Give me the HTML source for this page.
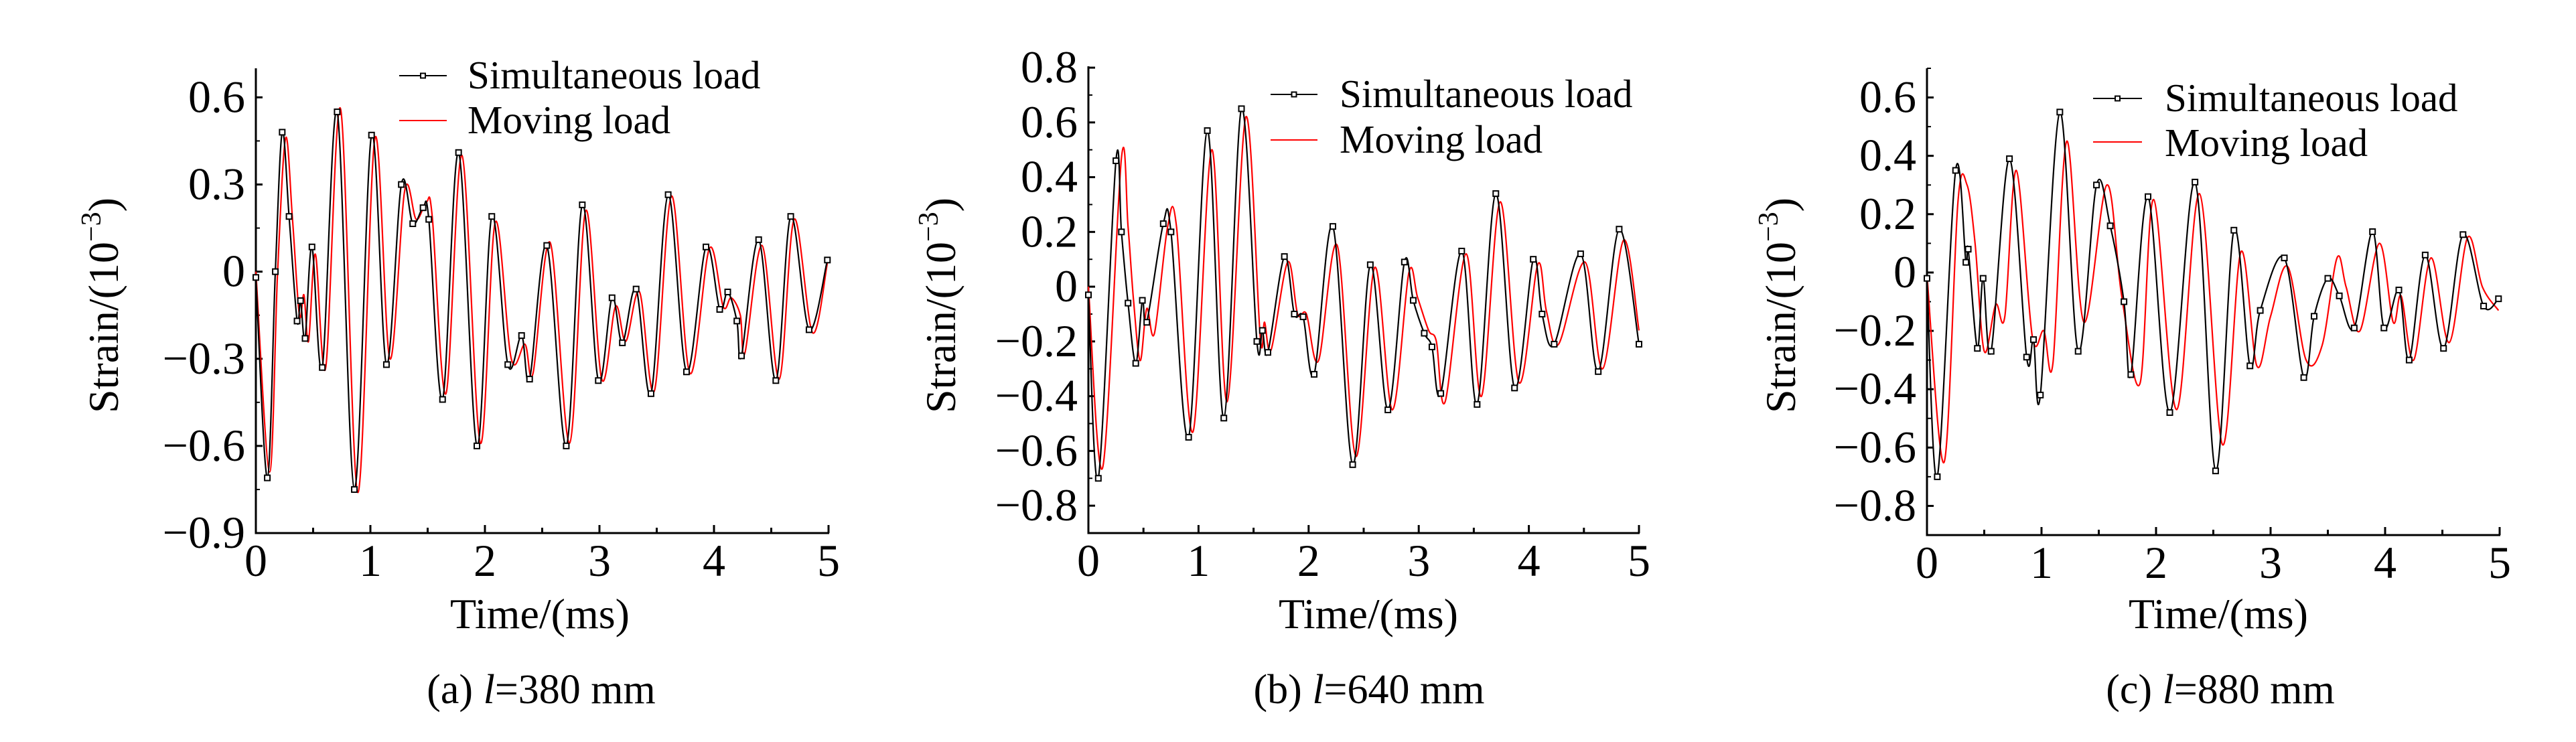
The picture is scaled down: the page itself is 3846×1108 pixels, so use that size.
<!DOCTYPE html>
<html><head><meta charset="utf-8"><style>
html,body{margin:0;padding:0;background:#fff;}
svg, svg text{font-family:"Liberation Serif","DejaVu Serif",serif;}
</style></head><body>
<svg id="fig" width="3846" height="1103" viewBox="0 0 3846 1103" xmlns="http://www.w3.org/2000/svg" font-family="Liberation Serif, serif"></svg>
<script>
// Panel (a) l=380 mm
const aSimT=[0,0.10,0.17,0.23,0.29,0.36,0.39,0.43,0.49,0.58,0.71,0.86,1.01,1.14,1.27,1.37,1.46,1.51,1.63,1.77,1.93,2.06,2.20,2.32,2.39,2.54,2.71,2.85,2.99,3.11,3.20,3.32,3.45,3.60,3.76,3.93,4.05,4.12,4.20,4.24,4.39,4.54,4.67,4.83,4.99];
const aSimV=[-0.02,-0.71,0.0,0.48,0.19,-0.17,-0.10,-0.23,0.085,-0.33,0.55,-0.75,0.47,-0.32,0.30,0.165,0.22,0.18,-0.44,0.41,-0.60,0.19,-0.32,-0.22,-0.37,0.09,-0.60,0.23,-0.375,-0.09,-0.245,-0.06,-0.42,0.265,-0.345,0.085,-0.13,-0.07,-0.17,-0.29,0.11,-0.375,0.19,-0.20,0.04];
const aMovT=[0,0.12,0.19,0.26,0.32,0.38,0.42,0.46,0.52,0.61,0.74,0.89,1.04,1.17,1.30,1.40,1.49,1.54,1.66,1.80,1.96,2.09,2.23,2.35,2.42,2.57,2.74,2.88,3.02,3.14,3.23,3.35,3.48,3.63,3.79,3.96,4.08,4.15,4.23,4.27,4.42,4.57,4.70,4.86,4.99];
const aMovV=[0.0,-0.69,0.0,0.46,0.18,-0.15,-0.08,-0.24,0.06,-0.33,0.56,-0.76,0.46,-0.30,0.28,0.18,0.24,0.19,-0.42,0.40,-0.59,0.17,-0.30,-0.25,-0.35,0.10,-0.59,0.21,-0.37,-0.12,-0.24,-0.07,-0.41,0.26,-0.35,0.08,-0.12,-0.09,-0.15,-0.28,0.09,-0.37,0.18,-0.21,0.03];
// Panel (b) l=640 mm
const bSimT=[0,0.09,0.25,0.30,0.36,0.43,0.49,0.53,0.68,0.75,0.91,1.08,1.23,1.39,1.53,1.58,1.63,1.78,1.87,1.95,2.05,2.22,2.40,2.56,2.72,2.87,2.95,3.05,3.12,3.20,3.39,3.53,3.70,3.87,4.04,4.12,4.23,4.47,4.63,4.82,5.0];
const bSimV=[-0.03,-0.70,0.46,0.20,-0.06,-0.28,-0.05,-0.13,0.23,0.20,-0.55,0.57,-0.48,0.65,-0.20,-0.16,-0.24,0.11,-0.10,-0.11,-0.32,0.22,-0.65,0.08,-0.45,0.09,-0.05,-0.17,-0.22,-0.39,0.13,-0.43,0.34,-0.37,0.10,-0.10,-0.21,0.12,-0.31,0.21,-0.21];
const bMovT=[0,0.13,0.30,0.36,0.41,0.47,0.53,0.60,0.72,0.80,0.95,1.12,1.26,1.43,1.56,1.60,1.66,1.81,1.90,1.98,2.09,2.26,2.43,2.60,2.76,2.91,2.99,3.09,3.16,3.24,3.43,3.57,3.74,3.91,4.08,4.16,4.27,4.51,4.67,4.86,5.0];
const bMovV=[0.0,-0.66,0.47,0.22,-0.05,-0.27,-0.08,-0.17,0.22,0.22,-0.53,0.50,-0.42,0.62,-0.18,-0.13,-0.23,0.09,-0.10,-0.10,-0.27,0.15,-0.62,0.07,-0.45,0.05,-0.04,-0.16,-0.20,-0.42,0.12,-0.40,0.31,-0.35,0.08,-0.09,-0.21,0.09,-0.30,0.17,-0.16];
// Panel (c) l=880 mm
const cSimT=[0,0.09,0.25,0.34,0.36,0.44,0.49,0.56,0.72,0.87,0.93,0.99,1.16,1.32,1.48,1.60,1.72,1.78,1.93,2.12,2.34,2.52,2.68,2.82,2.91,3.12,3.29,3.38,3.50,3.60,3.73,3.89,3.99,4.12,4.21,4.35,4.51,4.68,4.86,4.99];
const cSimV=[-0.02,-0.70,0.35,0.035,0.08,-0.26,-0.02,-0.27,0.39,-0.29,-0.23,-0.42,0.55,-0.27,0.30,0.16,-0.10,-0.35,0.26,-0.48,0.31,-0.68,0.145,-0.32,-0.13,0.05,-0.36,-0.15,-0.02,-0.08,-0.19,0.14,-0.19,-0.06,-0.30,0.06,-0.26,0.13,-0.115,-0.09];
const cMovT=[0,0.15,0.27,0.35,0.42,0.50,0.60,0.68,0.78,0.92,1.02,1.10,1.22,1.37,1.57,1.70,1.86,1.98,2.18,2.38,2.58,2.74,2.88,3.00,3.15,3.31,3.45,3.58,3.66,3.78,3.95,4.07,4.14,4.25,4.40,4.56,4.72,4.85,4.99];
const cMovV=[-0.01,-0.65,0.24,0.30,0.10,-0.27,-0.11,-0.15,0.35,-0.22,-0.20,-0.31,0.45,-0.17,0.30,-0.08,-0.38,0.25,-0.47,0.27,-0.59,0.07,-0.32,-0.15,0.02,-0.30,-0.25,0.05,-0.05,-0.20,0.10,-0.17,-0.08,-0.30,0.05,-0.24,0.12,-0.05,-0.13];
const aTicks=[0.6,0.3,0,-0.3,-0.6,-0.9];
const bTicks=[0.8,0.6,0.4,0.2,0,-0.2,-0.4,-0.6,-0.8];
const cTicks=[0.6,0.4,0.2,0,-0.2,-0.4,-0.6,-0.8];
const xTicks=[0,1,2,3,4,5];

const NS="http://www.w3.org/2000/svg";
const svg=document.getElementById('fig');
const FF='Liberation Serif, DejaVu Serif, serif';
function mk(tag,attrs,parent){const e=document.createElementNS(NS,tag);for(const k in attrs)e.setAttribute(k,attrs[k]);if(tag==='text'){e.setAttribute('font-family',FF);e.style.fontFamily='"Liberation Serif", "DejaVu Serif", serif';}(parent||svg).appendChild(e);return e;}
function fmt(v){if(v===0)return '0';return (v<0?'\u2212':'')+Math.abs(v).toFixed(1);}
function smooth(pts){let d='M'+pts[0][0]+','+pts[0][1];for(let i=0;i<pts.length-1;i++){const p0=pts[i-1]||pts[i],p1=pts[i],p2=pts[i+1],p3=pts[i+2]||p2;const c1x=p1[0]+(p2[0]-p0[0])/6,c1y=p1[1]+(p2[1]-p0[1])/6,c2x=p2[0]-(p3[0]-p1[0])/6,c2y=p2[1]-(p3[1]-p1[1])/6;d+=' C'+c1x+','+c1y+' '+c2x+','+c2y+' '+p2[0]+','+p2[1];}return d;}

const panels=[
 {id:'a',x0:382,x1:1237,yTop:102,yBot:796,vmin:-0.9,vmax:0.7,ticks:aTicks,minorStep:0.15,sT:aSimT,sV:aSimV,mT:aMovT,mV:aMovV,
  leg:{x1:596,x2:667,y1:113,ty1:132,y2:180,ty2:199,tx:698},cap:'a',capNum:'380',capX:808,ytX:154,txX:806},
 {id:'b',x0:1625,x1:2447,yTop:99,yBot:796,vmin:-0.9,vmax:0.805,ticks:bTicks,minorStep:0.1,sT:bSimT,sV:bSimV,mT:bMovT,mV:bMovV,
  leg:{x1:1897,x2:1967,y1:141,ty1:160,y2:209,ty2:228,tx:2000},cap:'b',capNum:'640',capX:2044,ytX:1404,txX:2043},
 {id:'c',x0:2877,x1:3732,yTop:102,yBot:799,vmin:-0.9,vmax:0.7,ticks:cTicks,minorStep:0.1,sT:cSimT,sV:cSimV,mT:cMovT,mV:cMovV,
  leg:{x1:3125,x2:3198,y1:147,ty1:166,y2:212,ty2:233,tx:3232},cap:'c',capNum:'880',capX:3315,ytX:2658,txX:3312}
];

panels.forEach(p=>{
 const g=mk('g',{});
 
 
 const X=t=>p.x0+(t/5)*(p.x1-p.x0);
 const Y=v=>p.yBot-(v-p.vmin)/(p.vmax-p.vmin)*(p.yBot-p.yTop);
 const ax=mk('path',{d:'M'+p.x0+','+p.yTop+' L'+p.x0+','+p.yBot+' L'+(p.x1+1)+','+p.yBot,fill:'none',stroke:'#000','stroke-width':3},g);
 
 
 xTicks.forEach(t=>{
  mk('line',{x1:X(t),x2:X(t),y1:p.yBot,y2:p.yBot-12,stroke:'#000','stroke-width':3},g);
  if(t<5)mk('line',{x1:X(t+0.5),x2:X(t+0.5),y1:p.yBot,y2:p.yBot-8,stroke:'#000','stroke-width':3},g);
  const tl=mk('text',{x:X(t),y:p.yBot+64,'font-size':68,'text-anchor':'middle'},g);
  tl.textContent=String(t);
  
  
 });
 p.ticks.forEach(v=>{
  mk('line',{x1:p.x0,x2:p.x0+10,y1:Y(v),y2:Y(v),stroke:'#000','stroke-width':3},g);
  const tl=mk('text',{x:p.x0-16,y:Y(v)+22,'font-size':68,'text-anchor':'end'},g);
  tl.textContent=fmt(v);
  
  
 });
 for(let v=Math.ceil(p.vmin/p.minorStep)*p.minorStep;v<=p.vmax+1e-9;v+=p.minorStep){
  mk('line',{x1:p.x0,x2:p.x0+6,y1:Y(v),y2:Y(v),stroke:'#000','stroke-width':2},g);
 }
 const red=mk('path',{d:smooth(p.mT.map((t,i)=>[X(t),Y(p.mV[i])])),fill:'none',stroke:'#ff0000','stroke-width':2.2},g);
 
 
 const blk=mk('path',{d:smooth(p.sT.map((t,i)=>[X(t),Y(p.sV[i])])),fill:'none',stroke:'#000','stroke-width':2.2},g);
 
 
 p.sT.forEach((t,i)=>{
  const m=mk('rect',{x:X(t)-4,y:Y(p.sV[i])-4,width:8,height:8,fill:'#fff',stroke:'#000','stroke-width':2},g);
  
  
 });
 const L=p.leg;
 const lg=mk('g',{},g);
 
 
 mk('line',{x1:L.x1,x2:L.x2,y1:L.y1,y2:L.y1,stroke:'#000','stroke-width':2},lg);
 mk('rect',{x:(L.x1+L.x2)/2-3.5,y:L.y1-3.5,width:7,height:7,fill:'#fff',stroke:'#000','stroke-width':2},lg);
 mk('line',{x1:L.x1,x2:L.x2,y1:L.y2,y2:L.y2,stroke:'#ff0000','stroke-width':2},lg);
 const t1=mk('text',{x:L.tx,y:L.ty1,'font-size':59},lg);t1.textContent='Simultaneous load';
 
 
 const t2=mk('text',{x:L.tx,y:L.ty2,'font-size':59},lg);t2.textContent='Moving load';
 
 
 const xt=mk('text',{x:p.txX,y:938,'font-size':64,'text-anchor':'middle'},g);xt.textContent='Time/(ms)';
 
 
 const yt=mk('text',{x:0,y:0,'font-size':64,'text-anchor':'middle',transform:'translate('+(p.ytX+22)+',456) rotate(-90)'},g);
 yt.innerHTML='Strain/(10<tspan font-size="42" dy="-26">\u22123</tspan><tspan dy="26">)</tspan>';
 
 
 const cp=mk('text',{x:p.capX,y:1050,'font-size':62,'text-anchor':'middle'},g);
 cp.innerHTML='('+p.cap+') <tspan font-style="italic">l</tspan>='+p.capNum+' mm';
 
 
});
</script>
</body></html>
